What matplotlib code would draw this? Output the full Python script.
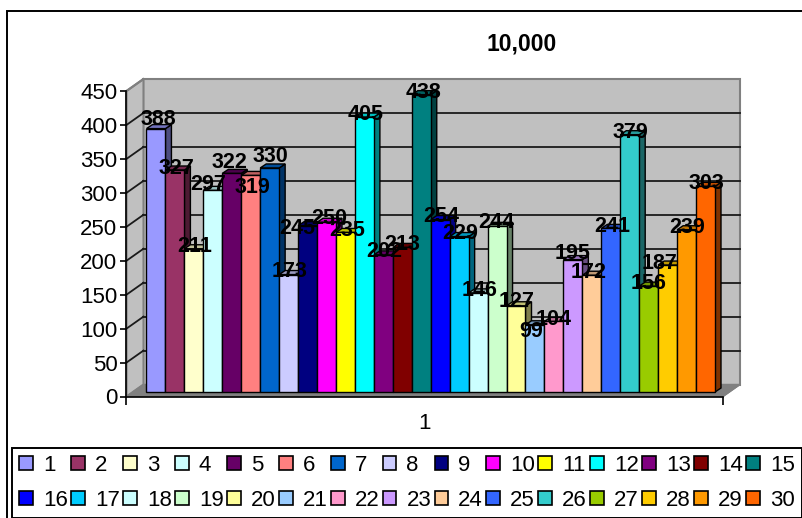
#!/usr/bin/env python
import matplotlib
matplotlib.use("Agg")
import matplotlib.pyplot as plt
from matplotlib.colors import to_rgb
from matplotlib.patches import Patch, Polygon, Rectangle

plt.rcParams['font.family'] = ['Liberation Sans', 'DejaVu Sans']

names = [str(n) for n in range(1, 31)]
values = [388, 327, 211, 297, 322, 319, 330, 173, 245, 250,
          235, 405, 202, 213, 438, 254, 229, 146, 244, 127,
          99, 104, 195, 172, 241, 379, 156, 187, 239, 303]
colours = ['#9999FF', '#993366', '#FFFFCC', '#CCFFFF', '#660066', '#FF8080',
           '#0066CC', '#CCCCFF', '#000080', '#FF00FF', '#FFFF00', '#00FFFF',
           '#800080', '#800000', '#008080', '#0000FF', '#00CCFF', '#CCFFFF',
           '#CCFFCC', '#FFFF99', '#99CCFF', '#FF99CC', '#CC99FF', '#FFCC99',
           '#3366FF', '#33CCCC', '#99CC00', '#FFCC00', '#FF9900', '#FF6600']
yticks = list(range(0, 451, 50))

# where each data label sits relative to its bar top (pixels)
label_dx = [2, 2, 1, -5, -2, 2, 1, 1, -10, 3, 2, 1, 1, 0, 2,
            1, 1, 1, -1, 1, -4, 0, 0, -3, 1, 1, 0, -8, 1, 1]
label_dy = [9, 2, 2, 6, 11, -12, 11, 3, -3, 4, 2, 3, 3, 3, 2,
            3, 3, 2, 4, 4, -7, 2, 6, 3, 2, 2, 3, 2, 2, 3]

W, H = 803, 518
# front plane of the 3D box, in pixels
X0, X1, Y0, Y1 = 126.5, 723.0, 396.5, 91.0
BAR_PX = 18.95
BAR_LEFT = 146.5

fig = plt.figure(figsize=(W / 100, H / 100), dpi=100)
ax = fig.add_axes([X0 / W, 1 - Y0 / H, (X1 - X0) / W, (Y0 - Y1) / H])

xmin = 0.5 - (BAR_LEFT - 3.5 - X0) / BAR_PX
xmax = xmin + (X1 - X0) / BAR_PX
ax.set_xlim(xmin, xmax)
ax.set_ylim(0, 450)
px_y = 450 / (Y0 - Y1)
px_x = 1 / BAR_PX

# wall and bar depth, converted to data units
wdx, wdy = 17 * px_x, 12 * px_y
ddx, ddy = 6 * px_x, 4 * px_y
bx, by = 3.5 * px_x, 4.5 * px_y


def face(pts, fc, ec='none', lw=0.0, z=1):
    ax.add_patch(Polygon(pts, closed=True, facecolor=fc, edgecolor=ec,
                         linewidth=lw, zorder=z, clip_on=False))


def shade(colour, k):
    return tuple(c * k for c in to_rgb(colour))


# back wall, side wall, floor
face([(xmin + wdx, wdy), (xmax + wdx, wdy), (xmax + wdx, 450 + wdy), (xmin + wdx, 450 + wdy)],
     '#C0C0C0', '#808080', 1.5, 1)
face([(xmin, 0), (xmin + wdx, wdy), (xmin + wdx, 450 + wdy), (xmin, 450)],
     '#C0C0C0', '#808080', 1.5, 1)
face([(xmin, 0), (xmax, 0), (xmax + wdx, wdy), (xmin + wdx, wdy)], '#808080', '#808080', 1, 1)

for v in yticks[1:-1]:
    ax.plot([xmin + wdx, xmax + wdx], [v + wdy, v + wdy], color='#1A1A1A', lw=1.3,
            zorder=2, clip_on=False)
for v in yticks[1:-1]:
    ax.plot([xmin, xmin + wdx], [v, v + wdy], color='#1A1A1A', lw=1.3, zorder=2, clip_on=False)
ax.plot([xmin, xmin + wdx], [450, 450 + wdy], color='#808080', lw=1.5, zorder=2, clip_on=False)

# bars go left to right, each one hides the side of the one before
for i, (v, c) in enumerate(zip(values, colours)):
    z = 3 + i * 0.01
    left = i + 0.5 + bx
    right = left + 1
    base = by
    top = v + by
    face([(right, base), (right + ddx, base + ddy), (right + ddx, top + ddy), (right, top)],
         shade(c, 0.5), 'black', 1.0, z)
    face([(left, top), (right, top), (right + ddx, top + ddy), (left + ddx, top + ddy)],
         shade(c, 0.75), 'black', 1.0, z)
    ax.bar(left + 0.5, v, width=1, bottom=base, color=c, edgecolor='black', linewidth=1.0,
           zorder=z)

for i, v in enumerate(values):
    ax.annotate(str(v), xy=(i + 1 + bx, v + by),
                xytext=(label_dx[i], label_dy[i]), textcoords='offset pixels',
                ha='center', va='center', fontsize=15.5, fontweight='bold',
                color='black', zorder=10, annotation_clip=False)

for s in ('top', 'right'):
    ax.spines[s].set_visible(False)
ax.patch.set_visible(False)
ax.spines['left'].set_linewidth(1.2)
ax.spines['bottom'].set_linewidth(1.2)
ax.spines['bottom'].set_zorder(5)
ax.set_yticks(yticks)
ax.tick_params(axis='y', length=4.5, width=1.2, labelsize=16, pad=2)
ax.set_xticks([(xmin + xmax) / 2], labels=['1'])
ax.set_xticks([xmin, xmax], minor=True)
ax.tick_params(axis='x', which='major', length=0, labelsize=16, pad=12)
ax.tick_params(axis='x', which='minor', length=6, width=1.2)
ax.plot([xmax, xmax + wdx], [0, wdy], color='#808080', lw=1.0, zorder=2, clip_on=False)

fig.text(522 / W, 1 - 43.5 / H, '10,000', ha='center', va='center', fontsize=16.5,
         fontweight='bold')

# chart frame
fig.add_artist(Rectangle((7 / W, -0.1), (W + 20) / W, 1 - 11 / H + 0.1, transform=fig.transFigure,
                         fill=False, edgecolor='black', linewidth=1.4))

# legend fills column first, so pair up the two rows
handles = [Patch(facecolor=c, edgecolor='black', linewidth=1.2) for c in colours]
order = []
for k in range(15):
    order += [k, k + 15]
leg = fig.legend([handles[k] for k in order], [names[k] for k in order], ncol=15,
                 loc='lower left', bbox_to_anchor=(12 / W, 1 - 518 / H, 790 / W, 71 / H),
                 mode='expand', fontsize=16, frameon=True, fancybox=False, framealpha=1,
                 edgecolor='black', handlelength=0.62, handleheight=0.62, handletextpad=0.45,
                 columnspacing=0.1, labelspacing=0.62, borderpad=0.33, borderaxespad=0)
leg.get_frame().set_linewidth(1.4)

fig.savefig('out.png', dpi=100)
